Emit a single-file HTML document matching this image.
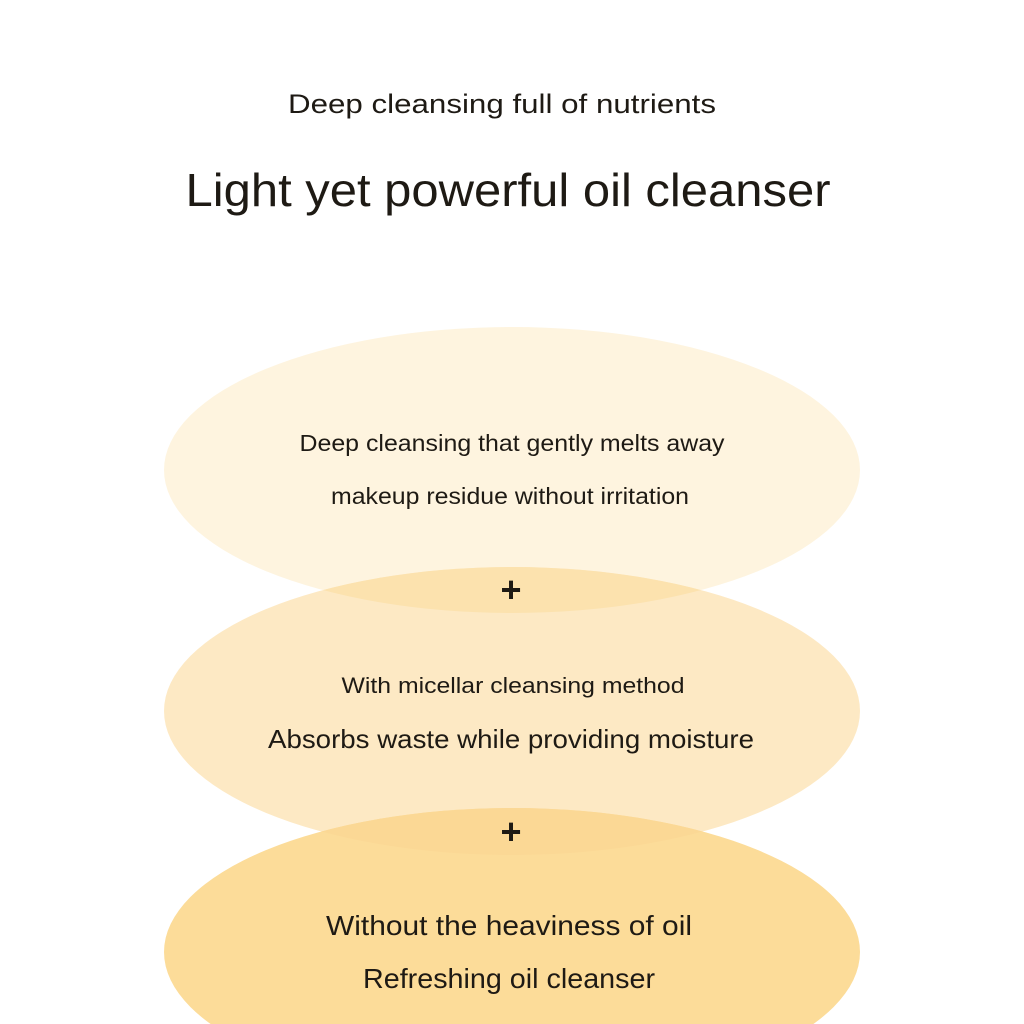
<!DOCTYPE html>
<html><head><meta charset="utf-8"><style>
html,body{margin:0;padding:0;background:#fff;width:1024px;height:1024px;overflow:hidden;}
svg{display:block;overflow:hidden;}
text{font-family:"Liberation Sans",sans-serif;text-anchor:middle;fill:#1e1a14;}
</style></head><body>
<svg width="1024" height="1024" viewBox="0 0 1024 1024">
<defs>
<clipPath id="c1"><ellipse cx="512" cy="470" rx="348" ry="143"/></clipPath>
<clipPath id="c2"><ellipse cx="512" cy="711" rx="348" ry="144"/></clipPath>
<clipPath id="pg"><rect x="0" y="0" width="1024" height="1024"/></clipPath>
</defs>
<g clip-path="url(#pg)">
<text x="502" y="113" font-size="27" fill="#111" textLength="428" lengthAdjust="spacingAndGlyphs">Deep cleansing full of nutrients</text>
<text x="508" y="206" font-size="46" fill="#000" textLength="645" lengthAdjust="spacingAndGlyphs">Light yet powerful oil cleanser</text>
<ellipse cx="512" cy="470" rx="348" ry="143" fill="#fef4df"/>
<ellipse cx="512" cy="711" rx="348" ry="144" fill="#fde9c4"/>
<ellipse cx="512" cy="952" rx="348" ry="144" fill="#fcdc99"/>
<ellipse cx="512" cy="711" rx="348" ry="144" fill="#fce2ae" clip-path="url(#c1)"/>
<ellipse cx="512" cy="952" rx="348" ry="144" fill="#fbd895" clip-path="url(#c2)"/>
<text x="512" y="451" font-size="23" textLength="425" lengthAdjust="spacingAndGlyphs">Deep cleansing that gently melts away</text>
<text x="510" y="504" font-size="23" textLength="358" lengthAdjust="spacingAndGlyphs">makeup residue without irritation</text>
<text x="511" y="602" font-size="36" font-weight="bold" fill="#000">+</text>
<text x="513" y="693" font-size="22" fill="#2a2318" textLength="343" lengthAdjust="spacingAndGlyphs">With micellar cleansing method</text>
<text x="511" y="748" font-size="26" textLength="486" lengthAdjust="spacingAndGlyphs">Absorbs waste while providing moisture</text>
<text x="511" y="844" font-size="36" font-weight="bold" fill="#000">+</text>
<text x="509" y="935" font-size="28" fill="#3a2e18" textLength="366" lengthAdjust="spacingAndGlyphs">Without the heaviness of oil</text>
<text x="509" y="988" font-size="28" textLength="292" lengthAdjust="spacingAndGlyphs">Refreshing oil cleanser</text>
</g>
</svg>
</body></html>
